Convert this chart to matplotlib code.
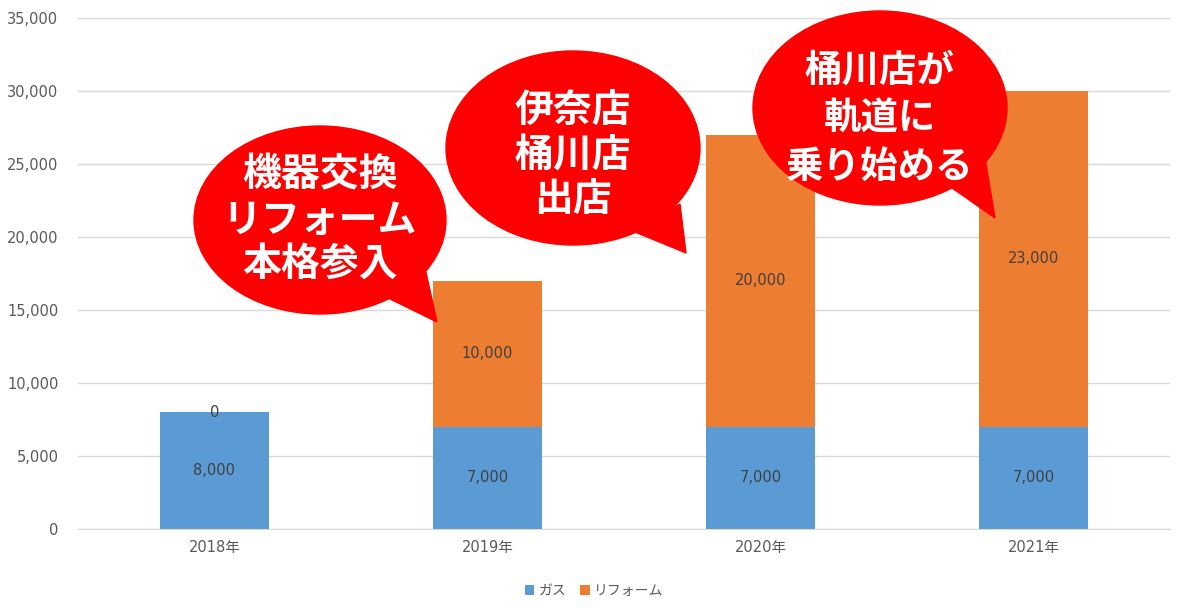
import matplotlib.pyplot as plt
from matplotlib.patches import Ellipse, Polygon
import numpy as np

plt.rcParams['font.family'] = ['Noto Sans CJK JP', 'DejaVu Sans']
num_font = ['DejaVu Sans', 'Noto Sans CJK JP']

years = ['2018年', '2019年', '2020年', '2021年']
gas = [8000, 7000, 7000, 7000]
reform = [0, 10000, 20000, 23000]
gas_color = '#5B9BD5'
reform_color = '#ED7D31'

# speech bubbles (pixel coords): text, ellipse center, w, h, tail tip, tail base, text center, line spacing, size
bubbles = [
    ('機器交換\nリフォーム\n本格参入', (320, 220), 252, 188, (437, 322), [(380, 294), (425, 268)], (320, 220), 1.18, 28),
    ('伊奈店\n桶川店\n出店', (573, 148), 254, 194, (686, 253), [(635, 232), (680, 204)], (573, 155), 1.18, 28),
    ('桶川店が\n軌道に\n乗り始める', (880, 108), 254, 194, (995, 218), [(945, 183), (985, 158)], (880, 118), 1.3, 27),
]

fig = plt.figure(figsize=(11.88, 6.15), dpi=100)
ax = fig.add_axes([78 / 1188, 1 - 529 / 615, (1170 - 78) / 1188, (529 - 18) / 615])

x = np.arange(len(years))
w = 0.4
ax.bar(x, gas, w, color=gas_color, label='ガス', zorder=2)
ax.bar(x, reform, w, bottom=gas, color=reform_color, label='リフォーム', zorder=2)

for i in range(len(years)):
    ax.text(x[i], gas[i] / 2, f'{gas[i]:,}', ha='center', va='center', fontsize=10.5, color='#404040',
            family=num_font, zorder=3)
    ax.text(x[i], gas[i] + reform[i] / 2, f'{reform[i]:,}', ha='center', va='center', fontsize=10.5,
            color='#404040', family=num_font, zorder=3)

ax.set_xlim(-0.5, len(years) - 0.5)
ax.set_ylim(0, 35000)
ax.set_yticks(np.arange(0, 35001, 5000))
ax.set_yticklabels([f'{v:,}' for v in range(0, 35001, 5000)], family=num_font)
ax.set_xticks(x)
ax.set_xticklabels(years, family=num_font)
ax.tick_params(axis='both', length=0, labelsize=10.5, labelcolor='#595959', pad=8)
ax.tick_params(axis='y', pad=14)
ax.yaxis.grid(True, color='#D9D9D9', linewidth=1, zorder=0)
ax.set_axisbelow(True)
for s in ['top', 'right', 'left']:
    ax.spines[s].set_visible(False)
ax.spines['bottom'].set_color('#D9D9D9')

leg = fig.legend(loc='center', bbox_to_anchor=(0.5, 1 - 591 / 615), ncol=2, frameon=False, fontsize=10,
                 handlelength=0.7, handleheight=0.7, handletextpad=0.3, columnspacing=1.0)
for t in leg.get_texts():
    t.set_color('#595959')

# overlay for bubbles in pixel coordinates
ov = fig.add_axes([0, 0, 1, 1], zorder=5)
ov.set_xlim(0, 1188)
ov.set_ylim(615, 0)
ov.axis('off')
for txt, c, bw, bh, tip, base, tc, ls, fs in bubbles:
    ov.add_patch(Ellipse(c, bw, bh, color='#FF0000', zorder=1))
    ov.add_patch(Polygon([base[0], tip, base[1]], closed=True, color='#FF0000', zorder=1))
    ov.text(tc[0], tc[1], txt, ha='center', va='center', fontsize=fs, fontweight='bold', color='white',
            linespacing=ls, zorder=2)

fig.savefig('out.png', dpi=100)
